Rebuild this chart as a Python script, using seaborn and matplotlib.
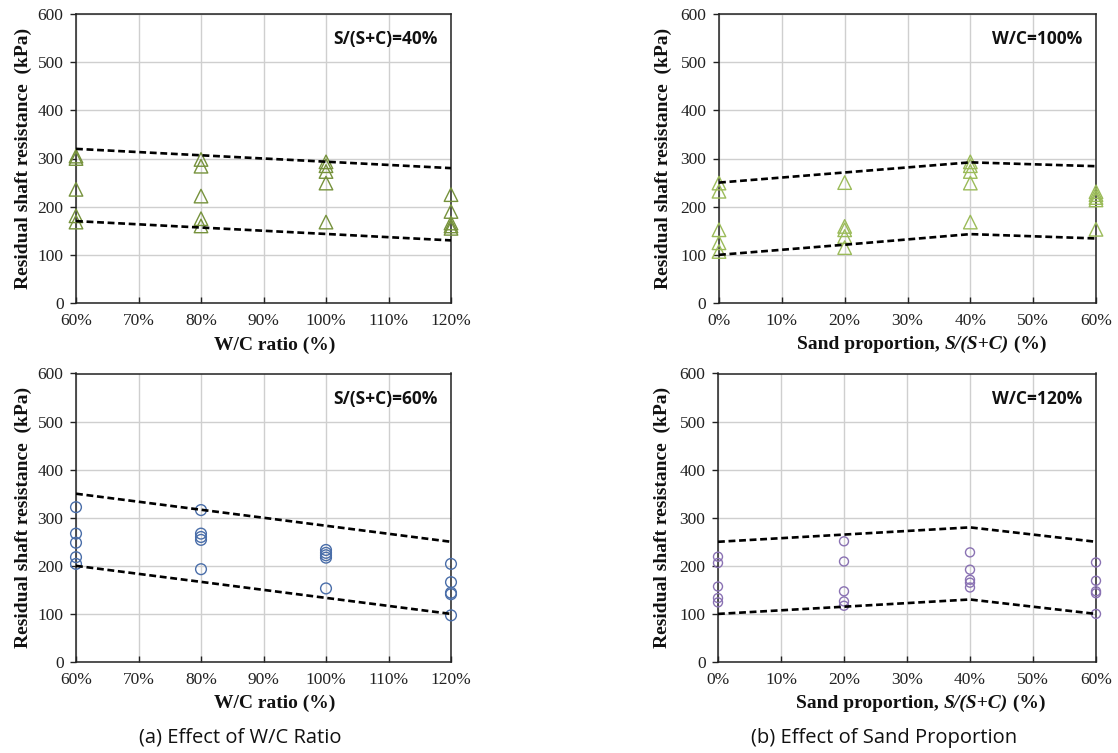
import matplotlib
matplotlib.use("Agg")
import matplotlib.pyplot as plt
import seaborn as sns
import pandas as pd
from matplotlib.ticker import FuncFormatter, MultipleLocator

# ---- Effect of W/C ratio (sand proportion fixed) ----
wc_ratio = [60, 80, 100, 120]
s40_resistance = [[305, 300, 236, 181, 168],
                  [298, 284, 222, 175, 160],
                  [293, 285, 273, 249, 168],
                  [225, 190, 166, 160, 155]]
s60_resistance = [[322, 267, 248, 218, 204],
                  [316, 267, 260, 254, 193],
                  [233, 227, 222, 217, 153],
                  [204, 166, 144, 141, 97]]
wc_envelope_x = [60, 120]
s40_upper = [320, 280]
s40_lower = [170, 130]
s60_upper = [350, 250]
s60_lower = [200, 100]

# ---- Effect of sand proportion (W/C fixed) ----
sand_prop = [0, 20, 40, 60]
wc100_resistance = [[249, 232, 152, 125, 107],
                    [250, 159, 152, 138, 115],
                    [293, 285, 273, 249, 168],
                    [231, 225, 219, 214, 153]]
wc120_resistance = [[219, 206, 157, 133, 124],
                    [251, 209, 147, 126, 117],
                    [228, 192, 171, 165, 155],
                    [207, 169, 147, 143, 100]]
wc100_upper = [250, 271, 292, 284]
wc100_lower = [100, 121, 143, 134]
wc120_upper = [250, 265, 280, 250]
wc120_lower = [100, 115, 130, 100]

ylabel_text = "Residual shaft resistance  (kPa)"

sns.set_theme(style="white")
plt.rcParams["font.family"] = ["Liberation Serif", "DejaVu Serif"]

SERIF = "Liberation Serif"
SANS = "Open Sans"


def long_frame(xs, groups):
    rows = []
    for x, vals in zip(xs, groups):
        for v in vals:
            rows.append({"x": x, "kpa": v})
    return pd.DataFrame(rows)


def style_axes(ax, xlim, xstep):
    ax.set_xlim(*xlim)
    ax.set_ylim(0, 600)
    ax.xaxis.set_major_locator(MultipleLocator(xstep))
    ax.yaxis.set_major_locator(MultipleLocator(100))
    ax.xaxis.set_major_formatter(FuncFormatter(lambda v, p: f"{v:.0f}%"))
    ax.grid(True, color="#cfcfcf", linewidth=1.0)
    ax.set_axisbelow(True)
    for sp in ax.spines.values():
        sp.set_visible(True)
        sp.set_color("#222222")
        sp.set_linewidth(1.1)
    ax.tick_params(axis="x", direction="in", length=4, width=1, pad=7,
                   labelsize=12.5, colors="#222222", bottom=True)
    ax.tick_params(axis="y", direction="out", length=4, width=1, pad=5,
                   labelsize=12.5, colors="#222222", left=True)
    for lab in ax.get_xticklabels() + ax.get_yticklabels():
        lab.set_family(SERIF)
    ax.set_ylabel(ylabel_text, fontsize=14, fontweight="bold", family=SERIF,
                  color="#111111")


def draw_panel(ax, xs, groups, env_x, upper, lower, marker, size, color):
    df = long_frame(xs, groups)
    sns.scatterplot(data=df, x="x", y="kpa", ax=ax, marker=marker, s=size,
                    color=color, facecolor="none", edgecolor=color,
                    linewidth=1.0, clip_on=False, zorder=3, legend=False)
    env = pd.DataFrame({"x": list(env_x) * 2,
                        "kpa": list(upper) + list(lower),
                        "bound": ["upper"] * len(env_x) + ["lower"] * len(env_x)})
    for b in ["upper", "lower"]:
        sub = env[env["bound"] == b]
        sns.lineplot(data=sub, x="x", y="kpa", ax=ax, color="black",
                     linewidth=1.9, linestyle=(0, (2.6, 1.4)), zorder=4,
                     legend=False)
    ax.set_xlabel("")
    ax.set_ylabel("")


fig = plt.figure(figsize=(11.18, 7.53), dpi=100)
W, H = 1118, 753


def axes_px(left, top, right, bottom):
    return fig.add_axes([left / W, 1 - bottom / H, (right - left) / W, (bottom - top) / H])


ax_a1 = axes_px(76, 14, 451, 303)
ax_b1 = axes_px(719, 14, 1096, 303)
ax_a2 = axes_px(76, 373.5, 451, 662)
ax_b2 = axes_px(718, 373.5, 1096, 662)

draw_panel(ax_a1, wc_ratio, s40_resistance, wc_envelope_x, s40_upper, s40_lower,
           "^", 95, "#76923c")
draw_panel(ax_b1, sand_prop, wc100_resistance, sand_prop, wc100_upper, wc100_lower,
           "^", 95, "#9bbb59")
draw_panel(ax_a2, wc_ratio, s60_resistance, wc_envelope_x, s60_upper, s60_lower,
           "o", 60, "#4a6ea9")
draw_panel(ax_b2, sand_prop, wc120_resistance, sand_prop, wc120_upper, wc120_lower,
           "o", 42, "#8a72b3")

for ax in (ax_a1, ax_a2):
    style_axes(ax, (60, 120), 10)
    ax.yaxis.set_label_coords(-0.117, 0.5)
    ax.set_xlabel("W/C ratio (%)", fontsize=14, fontweight="bold", family=SERIF,
                  color="#111111")
    ax.xaxis.set_label_coords(0.53, -0.115)

for ax in (ax_b1, ax_b2):
    style_axes(ax, (0, 60), 10)
    ax.yaxis.set_label_coords(-0.125, 0.5)
    t1 = ax.text(0.207, -0.115, "Sand proportion, ", transform=ax.transAxes,
                 ha="left", va="top", fontsize=14, fontweight="bold",
                 family=SERIF, color="#111111")
    t2 = ax.annotate("S/(S+C)", xy=(1, 0), xycoords=t1, ha="left", va="bottom",
                     fontsize=14, fontweight="bold", fontstyle="italic",
                     family=SERIF, color="#111111")
    ax.annotate(" (%)", xy=(1, 0), xycoords=t2, ha="left", va="bottom",
                fontsize=14, fontweight="bold", family=SERIF, color="#111111")

panel_tags = [(ax_a1, "S/(S+C)=40%"), (ax_b1, "W/C=100%"),
              (ax_a2, "S/(S+C)=60%"), (ax_b2, "W/C=120%")]
for ax, tag in panel_tags:
    ax.text(0.963, 0.912, tag, transform=ax.transAxes, ha="right", va="center",
            fontsize=12.5, fontweight="bold", family=SANS, color="#111111")

fig.text(240 / W, 1 - 738 / H, "(a) Effect of W/C Ratio", ha="center", va="center",
         fontsize=14.5, family=SANS, color="#111111")
fig.text(884 / W, 1 - 738 / H, "(b) Effect of Sand Proportion", ha="center",
         va="center", fontsize=14.5, family=SANS, color="#111111")

fig.savefig("out.png", dpi=100, facecolor="white")
